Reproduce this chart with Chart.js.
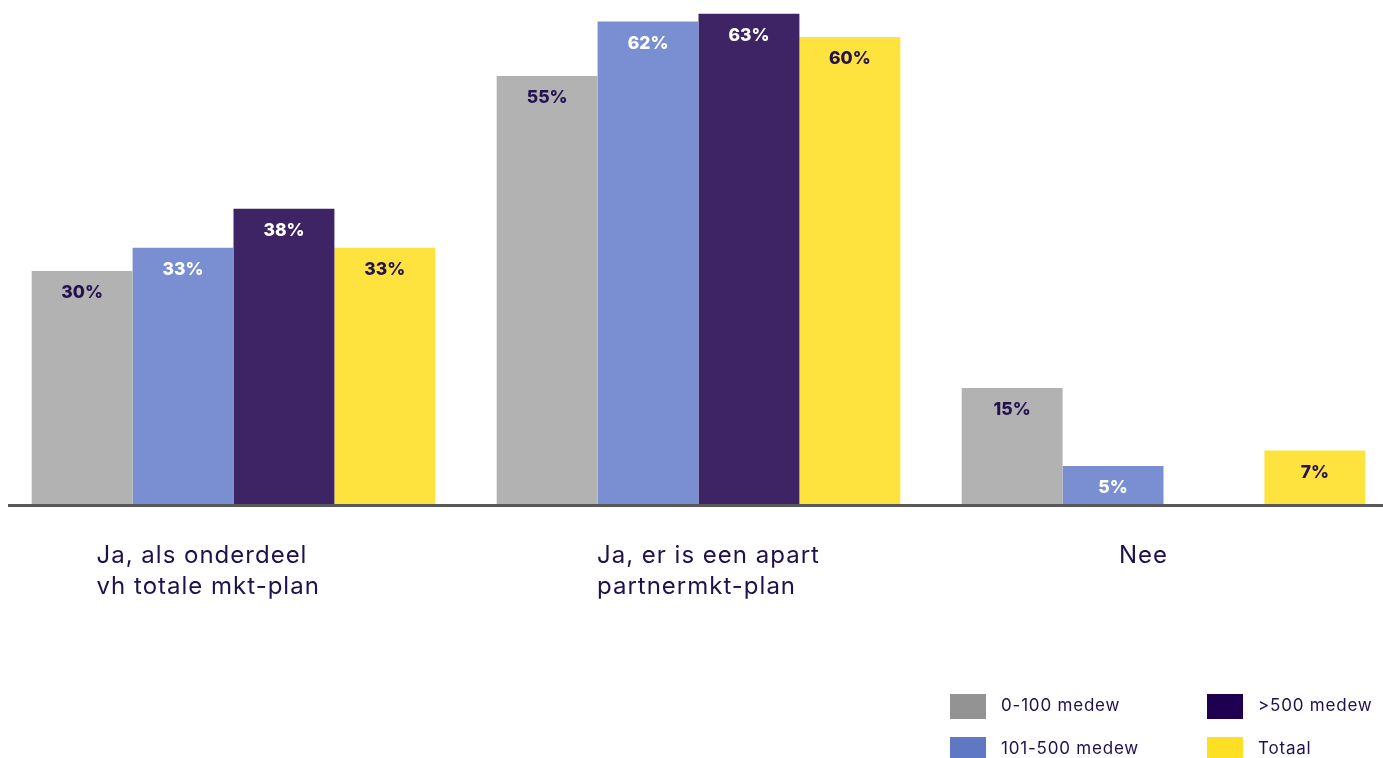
<!DOCTYPE html>
<html><head><meta charset="utf-8">
<script src="https://cdn.jsdelivr.net/npm/chart.js@4/dist/chart.umd.min.js"></script>
<style>
html,body{margin:0;padding:0;background:#fff;overflow:hidden;width:1383px;height:758px;}
#wrap{position:absolute;left:0;top:0;width:1397px;height:758px;}
#legend{position:absolute;left:0;top:0;width:1383px;height:758px;pointer-events:none;font-family:Inter, "Open Sans", sans-serif;font-size:17px;letter-spacing:0.8px;color:#20104d;}
.item{position:absolute;display:flex;align-items:center;white-space:nowrap;height:25px;}
.item span{position:relative;top:-2px;}
.box{width:36px;height:25px;margin-right:15px;flex:none;}
</style></head>
<body>
<div id="wrap"><canvas id="c" width="1397" height="758"></canvas></div>
<div id="legend"></div>
<script>
const categories = [["Ja, als onderdeel","vh totale mkt-plan"],["Ja, er is een apart","partnermkt-plan"],["Nee"]];
const seriesNames = ["0-100 medew","101-500 medew",">500 medew","Totaal"];
const values0to100 = [30,55,15];
const values101to500 = [33,62,5];
const valuesOver500 = [38,63,null];
const valuesTotaal = [33,60,7];

const barColors = ['#b2b2b2','#7a8fd1','#3e2465','#fee33f'];
const legendColors = ['#939393','#5f78c4','#1f0050','#fde024'];
const labelColors = ['#24124f','#ffffff','#ffffff','#24124f'];
const textColor = '#20104d';
const catLabelOffsets = [-137,-101.5,-44.5];

const seriesValues = [values0to100, values101to500, valuesOver500, valuesTotaal];

const plugin = {
  id:'custom',
  afterDatasetsDraw(chart){
    const ctx = chart.ctx;
    ctx.save();
    ctx.font = '800 17.5px Inter, "Open Sans", sans-serif';
    ctx.textAlign='center';
    ctx.textBaseline='middle';
    chart.data.datasets.forEach((ds,di)=>{
      const meta = chart.getDatasetMeta(di);
      meta.data.forEach((bar,i)=>{
        const v = ds.data[i];
        if(v===null||v===undefined) return;
        ctx.fillStyle = labelColors[di];
        ctx.fillText(v+'%', bar.x, bar.y+22);
      });
    });
    // axis line
    const ca = chart.chartArea;
    ctx.strokeStyle='#585858';
    ctx.lineWidth=3;
    ctx.beginPath();
    ctx.moveTo(8, ca.bottom+0.5);
    ctx.lineTo(chart.width, ca.bottom+0.5);
    ctx.stroke();
    // category labels
    const xs = chart.scales.x;
    ctx.font = '400 24px Inter, "Open Sans", sans-serif';
    ctx.letterSpacing = '1px';
    ctx.fillStyle=textColor;
    ctx.textAlign='left';
    ctx.textBaseline='alphabetic';
    categories.forEach((lines,i)=>{
      const x = xs.getPixelForValue(i)+catLabelOffsets[i];
      lines.forEach((ln,j)=>{
        ctx.fillText(ln, x, ca.bottom+58+j*31);
      });
    });
    ctx.restore();
  }
};

new Chart(document.getElementById('c'),{
  type:'bar',
  data:{
    labels:categories.map(c=>c.join(' ')),
    datasets:seriesNames.map((n,i)=>({
      label:n,
      data:seriesValues[i],
      backgroundColor:barColors[i],
      borderWidth:0,
      categoryPercentage:0.868,
      barPercentage:1.0
    }))
  },
  options:{
    responsive:false,
    animation:false,
    devicePixelRatio:1,
    layout:{padding:{left:1,right:1,top:0,bottom:253}},
    plugins:{legend:{display:false},tooltip:{enabled:false}},
    scales:{
      x:{display:false,offset:true},
      y:{display:false,min:0,max:64.75}
    }
  },
  plugins:[plugin]
});

// legend (column-major: 2 columns x 2 rows)
const legendPos = [[950,694],[950,737],[1207,694],[1207,737]];
const lg = document.getElementById('legend');
seriesNames.forEach((n,i)=>{
  const d=document.createElement('div');
  d.className='item';
  d.style.left=legendPos[i][0]+'px';
  d.style.top=legendPos[i][1]+'px';
  const b=document.createElement('div');
  b.className='box';
  b.style.background=legendColors[i];
  const t=document.createElement('span');
  t.textContent=n;
  d.appendChild(b);d.appendChild(t);
  lg.appendChild(d);
});
</script>
</body></html>
